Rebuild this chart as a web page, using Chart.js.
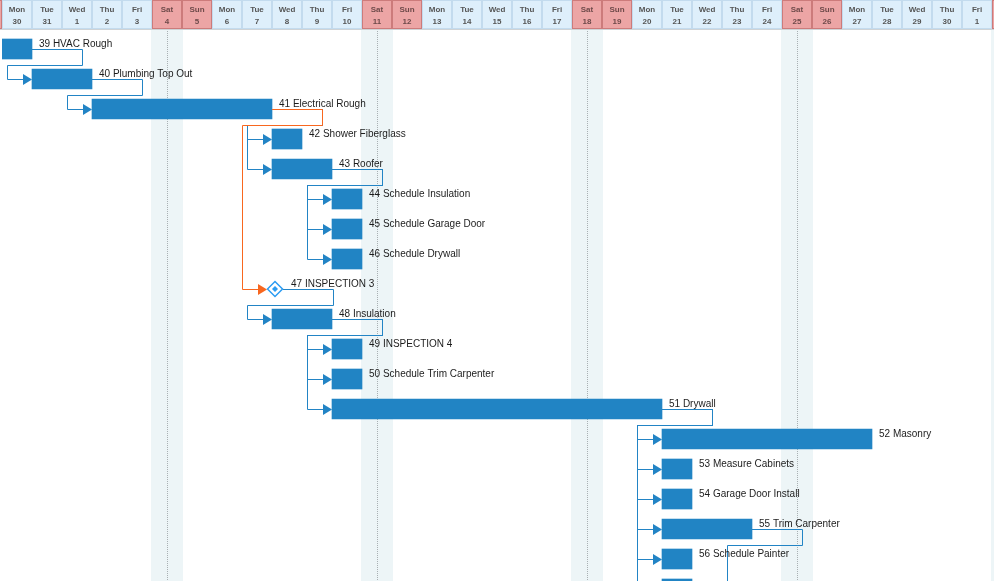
<!DOCTYPE html>
<html lang="en">
<head>
  <meta charset="UTF-8" />
  <title>Schedule | Gantt</title>
  <script src="https://cdn.jsdelivr.net/npm/chart.js"></script>
  <style>
    body {
      margin: 0;
      background: #ffffff;
      overflow: hidden;
    }
    #gantt {
      display: block;
    }
  </style>
</head>
<body>
  <canvas id="gantt" width="994" height="581"></canvas>

  <script>
    // header columns, first one is the partial Sunday on the left edge
    const dayNames = ['Sun', 'Mon', 'Tue', 'Wed', 'Thu', 'Fri', 'Sat', 'Sun', 'Mon', 'Tue', 'Wed', 'Thu', 'Fri', 'Sat', 'Sun',
      'Mon', 'Tue', 'Wed', 'Thu', 'Fri', 'Sat', 'Sun', 'Mon', 'Tue', 'Wed', 'Thu', 'Fri', 'Sat', 'Sun',
      'Mon', 'Tue', 'Wed', 'Thu', 'Fri', 'Sat'];
    const dayNums = [29, 30, 31, 1, 2, 3, 4, 5, 6, 7, 8, 9, 10, 11, 12, 13, 14, 15, 16, 17, 18, 19, 20,
      21, 22, 23, 24, 25, 26, 27, 28, 29, 30, 1, 2];
    const firstCol = -1;

    // tasks (start = day offset from Mon 30, duration in days, 0 = milestone)
    const taskIds = [39, 40, 41, 42, 43, 44, 45, 46, 47, 48, 49, 50, 51, 52, 53, 54, 55, 56, 57, 58];
    const taskNames = ['HVAC Rough', 'Plumbing Top Out', 'Electrical Rough', 'Shower Fiberglass', 'Roofer',
      'Schedule Insulation', 'Schedule Garage Door', 'Schedule Drywall', 'INSPECTION 3', 'Insulation',
      'INSPECTION 4', 'Schedule Trim Carpenter', 'Drywall', 'Masonry', 'Measure Cabinets',
      'Garage Door Install', 'Trim Carpenter', 'Schedule Painter', '', ''];
    const taskStart = [0, 1, 3, 9, 9, 11, 11, 11, 9, 9, 11, 11, 11, 22, 22, 22, 22, 22, 22, 25];
    const taskDur = [1, 2, 6, 1, 2, 1, 1, 1, 0, 2, 1, 1, 11, 7, 1, 1, 3, 1, 1, 1];

    // finish-to-start links
    const linkFrom = [39, 40, 41, 41, 43, 43, 43, 47, 48, 48, 48, 51, 51, 51, 51, 51, 51, 55, 41];
    const linkTo = [40, 41, 42, 43, 44, 45, 46, 48, 49, 50, 51, 52, 53, 54, 55, 56, 57, 58, 47];
    const linkCritical = [0, 0, 0, 0, 0, 0, 0, 0, 0, 0, 0, 0, 0, 0, 0, 0, 0, 0, 1];

    const barColor = '#2184c4';
    const linkColor = '#2284c5';
    const critColor = '#f8671f';
    const msColor = '#2b9cf2';
    const font = '"Liberation Sans", Arial, sans-serif';

    const barData = [];
    taskIds.forEach((id, i) => {
      if (taskDur[i] > 0) barData.push({ x: [taskStart[i], taskStart[i] + taskDur[i]], y: i });
    });

    const rowOf = id => taskIds.indexOf(id);

    const ganttPlugin = {
      id: 'gantt',
      beforeDraw(chart) {
        const c = chart.ctx;
        const xs = chart.scales.x;
        const H = chart.height;
        c.save();
        // weekend bands + dotted saturday line
        dayNames.forEach((d, k) => {
          if (d !== 'Sat') return;
          const x0 = Math.round(xs.getPixelForValue(firstCol + k));
          c.fillStyle = '#edf5f7';
          c.fillRect(x0 - 1, 30, 32, H - 30);
          c.strokeStyle = '#a9b0b3';
          c.lineWidth = 1;
          c.setLineDash([1, 1]);
          c.beginPath();
          c.moveTo(x0 + 15.5, 31);
          c.lineTo(x0 + 15.5, H);
          c.stroke();
          c.setLineDash([]);
        });
        // header
        c.fillStyle = '#ffffff';
        c.fillRect(0, 0, chart.width, 29);
        dayNames.forEach((d, k) => {
          const x0 = Math.round(xs.getPixelForValue(firstCol + k));
          const wkd = d === 'Sat' || d === 'Sun';
          c.fillStyle = wkd ? '#eca5a5' : '#deeffb';
          c.fillRect(x0 + 1, 1, 28, 27);
          c.strokeStyle = wkd ? '#cc7b7b' : '#c3dbee';
          c.lineWidth = 1;
          c.strokeRect(x0 + 0.5, 0.5, 29, 28);
          c.fillStyle = wkd ? '#6e4a4a' : '#555555';
          c.font = 'bold 8px ' + font;
          c.textAlign = 'center';
          c.textBaseline = 'middle';
          c.fillText(d, x0 + 15, 10);
          c.fillText(String(dayNums[k]), x0 + 15, 22);
        });
        c.strokeStyle = '#cfd3d6';
        c.beginPath();
        c.moveTo(0, 29.5);
        c.lineTo(chart.width, 29.5);
        c.stroke();
        c.restore();
      },
      afterDatasetsDraw(chart) {
        const c = chart.ctx;
        const xs = chart.scales.x;
        const ys = chart.scales.y;
        const px = v => Math.round(xs.getPixelForValue(v));
        const cy = r => Math.round(ys.getPixelForValue(r));
        const endOf = r => taskDur[r] > 0 ? px(taskStart[r] + taskDur[r]) : px(taskStart[r]) + 11;
        const startOf = r => taskDur[r] > 0 ? px(taskStart[r]) : px(taskStart[r]) - 5;

        c.save();
        c.lineWidth = 1;
        // blue links first, critical on top
        const order = linkFrom.map((f, i) => i).sort((a, b) => linkCritical[a] - linkCritical[b]);
        order.forEach(i => {
          const p = rowOf(linkFrom[i]);
          const s = rowOf(linkTo[i]);
          const e = endOf(p);
          const ss = startOf(s);
          const y1 = cy(p) + 0.5;
          const y2 = cy(s) + 0.5;
          const col = linkCritical[i] ? critColor : linkColor;
          c.strokeStyle = col;
          c.beginPath();
          c.moveTo(e, y1);
          c.lineTo(e + 50.5, y1);
          c.lineTo(e + 50.5, y1 + 16);
          c.lineTo(ss - 24.5, y1 + 16);
          c.lineTo(ss - 24.5, y2);
          c.lineTo(ss - 8, y2);
          c.stroke();
          c.fillStyle = col;
          c.beginPath();
          c.moveTo(ss - 9, y2 - 5.5);
          c.lineTo(ss, y2);
          c.lineTo(ss - 9, y2 + 5.5);
          c.closePath();
          c.fill();
        });

        // milestones
        taskIds.forEach((id, r) => {
          if (taskDur[r] > 0) return;
          const mx = px(taskStart[r]) + 3;
          const my = cy(r);
          c.fillStyle = '#ffffff';
          c.strokeStyle = msColor;
          c.lineWidth = 1.5;
          c.beginPath();
          c.moveTo(mx - 7.5, my);
          c.lineTo(mx, my - 7.5);
          c.lineTo(mx + 7.5, my);
          c.lineTo(mx, my + 7.5);
          c.closePath();
          c.fill();
          c.stroke();
          c.fillStyle = msColor;
          c.beginPath();
          c.moveTo(mx - 3, my);
          c.lineTo(mx, my - 3);
          c.lineTo(mx + 3, my);
          c.lineTo(mx, my + 3);
          c.closePath();
          c.fill();
        });

        // task labels
        c.fillStyle = '#1c1c1c';
        c.font = '10px ' + font;
        c.textAlign = 'left';
        c.textBaseline = 'alphabetic';
        taskIds.forEach((id, r) => {
          if (!taskNames[r]) return;
          const lx = taskDur[r] > 0 ? endOf(r) + 7 : px(taskStart[r]) + 19;
          c.fillText(id + ' ' + taskNames[r], lx, cy(r) - 2);
        });
        c.restore();
      }
    };

    new Chart(document.getElementById('gantt'), {
      type: 'bar',
      data: {
        datasets: [{
          label: 'Tasks',
          data: barData,
          backgroundColor: barColor,
          borderWidth: 0,
          borderSkipped: false,
          barThickness: 20
        }]
      },
      options: {
        indexAxis: 'y',
        responsive: false,
        animation: false,
        layout: { padding: { top: 34, left: 2, right: 2, bottom: 0 } },
        scales: {
          x: { type: 'linear', min: 0, max: 33, display: false, offset: false },
          y: { type: 'linear', min: -0.5, max: 17.7333, reverse: true, display: false, offset: false }
        },
        plugins: {
          legend: { display: false },
          tooltip: { enabled: false }
        }
      },
      plugins: [ganttPlugin]
    });
  </script>
</body>
</html>
